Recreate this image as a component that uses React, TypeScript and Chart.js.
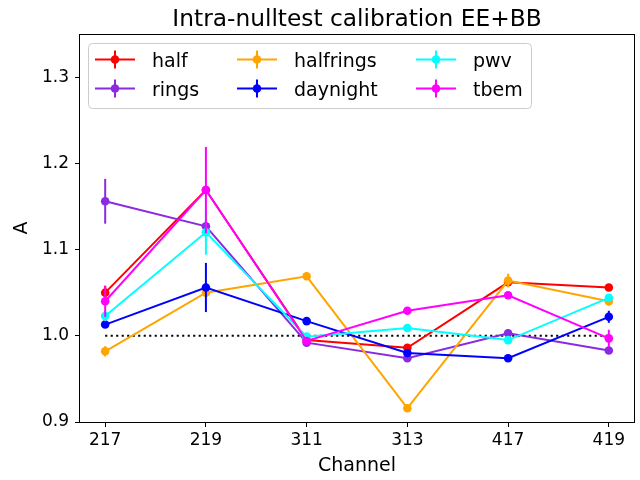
import { Chart, registerables } from "chart.js";
import { useEffect, useRef } from "react";

Chart.register(...registerables);

const categories = ["217", "219", "311", "313", "417", "419"];
const yTicks = [0.9, 1.0, 1.1, 1.2, 1.3];

const seriesNames = ["half", "rings", "halfrings", "daynight", "pwv", "tbem"];
const seriesColors = ["#ff0000", "#8a2be2", "#ffa500", "#0000ff", "#00ffff", "#ff00ff"];

const half = [1.050, 1.169, 0.995, 0.986, 1.062, 1.056];
const rings = [1.156, 1.127, 0.992, 0.974, 1.003, 0.983];
const halfrings = [0.982, 1.050, 1.069, 0.916, 1.064, 1.040];
const daynight = [1.013, 1.056, 1.017, 0.980, 0.974, 1.022];
const pwv = [1.023, 1.120, 0.999, 1.009, 0.995, 1.044];
const tbem = [1.040, 1.169, 0.994, 1.029, 1.047, 0.997];

const halfErr = [0.008, 0.005, 0.004, 0.004, 0.004, 0.004];
const ringsErr = [0.026, 0.005, 0.004, 0.004, 0.004, 0.004];
const halfringsErr = [0.006, 0.005, 0.004, 0.004, 0.008, 0.005];
const daynightErr = [0.004, 0.0285, 0.004, 0.004, 0.004, 0.007];
const pwvErr = [0.006, 0.026, 0.004, 0.004, 0.004, 0.004];
const tbemErr = [0.018, 0.05, 0.004, 0.004, 0.004, 0.010];

const referenceLine = [1.0, 1.0];

const values = [half, rings, halfrings, daynight, pwv, tbem];
const errors = [halfErr, ringsErr, halfringsErr, daynightErr, pwvErr, tbemErr];

const FONT = '"DejaVu Sans", sans-serif';

// error bars, drawn per dataset so stacking follows dataset order
const errorBarPlugin = {
  id: "errorBars",
  beforeDatasetDraw(chart: any, args: any) {
    const ds = chart.data.datasets[args.index];
    if (ds.errIndex === undefined) return;
    const err = errors[ds.errIndex];
    const vals = values[ds.errIndex];
    const xs = chart.scales.x;
    const ys = chart.scales.y;
    const ctx = chart.ctx;
    ctx.save();
    ctx.beginPath();
    ctx.rect(chart.chartArea.left, chart.chartArea.top, chart.chartArea.width, chart.chartArea.height);
    ctx.clip();
    ctx.strokeStyle = ds.borderColor;
    ctx.lineWidth = 2;
    vals.forEach((v, i) => {
      const px = xs.getPixelForValue(i);
      ctx.beginPath();
      ctx.moveTo(px, ys.getPixelForValue(v - err[i]));
      ctx.lineTo(px, ys.getPixelForValue(v + err[i]));
      ctx.stroke();
    });
    ctx.restore();
  },
};

const decorPlugin = {
  id: "decor",
  afterDraw(chart: any) {
    const { ctx, chartArea } = chart;
    const { left, right, top, bottom } = chartArea;
    ctx.save();
    // frame
    ctx.strokeStyle = "#000";
    ctx.lineWidth = 1;
    ctx.strokeRect(Math.round(left) - 0.5, Math.round(top) + 0.5, Math.round(right - left) + 1, Math.round(bottom - top));

    // title
    ctx.fillStyle = "#000";
    ctx.font = `23.3px ${FONT}`;
    ctx.textAlign = "center";
    ctx.textBaseline = "alphabetic";
    ctx.fillText("Intra-nulltest calibration EE+BB", (left + right) / 2, 26);

    // legend
    const bx = left + 8.5;
    const by = top + 9.5;
    const bw = 443;
    const bh = 65;
    ctx.beginPath();
    ctx.roundRect(bx, by, bw, bh, 4);
    ctx.fillStyle = "rgba(255,255,255,0.8)";
    ctx.fill();
    ctx.strokeStyle = "#cccccc";
    ctx.lineWidth = 1;
    ctx.stroke();

    const colX = [left + 15, left + 157, left + 336];
    const rowY = [top + 25.5, top + 54.5];
    ctx.font = `19px ${FONT}`;
    ctx.textAlign = "left";
    seriesNames.forEach((name, i) => {
      const x0 = colX[Math.floor(i / 2)];
      const y0 = rowY[i % 2];
      ctx.strokeStyle = seriesColors[i];
      ctx.fillStyle = seriesColors[i];
      ctx.lineWidth = 2;
      ctx.beginPath();
      ctx.moveTo(x0, y0);
      ctx.lineTo(x0 + 40, y0);
      ctx.moveTo(x0 + 20, y0 - 9);
      ctx.lineTo(x0 + 20, y0 + 9);
      ctx.stroke();
      ctx.beginPath();
      ctx.arc(x0 + 20, y0, 4.3, 0, Math.PI * 2);
      ctx.fill();
      ctx.fillStyle = "#000";
      ctx.fillText(name, x0 + 57, y0 + 7);
    });
    ctx.restore();
  },
};

export default function App() {
  const canvasRef = useRef<HTMLCanvasElement>(null);

  useEffect(() => {
    if (!canvasRef.current) return;
    const datasets: any[] = seriesNames.map((name, i) => ({
      label: name,
      data: values[i].map((v, j) => ({ x: j, y: v })),
      borderColor: seriesColors[i],
      backgroundColor: seriesColors[i],
      borderWidth: 2,
      pointRadius: 4.3,
      pointBorderWidth: 0,
      pointBackgroundColor: seriesColors[i],
      tension: 0,
      order: seriesNames.length - i,
      errIndex: i,
    }));
    datasets.push({
      label: "reference",
      data: referenceLine.map((v, j) => ({ x: j * (categories.length - 1), y: v })),
      borderColor: "#000",
      borderWidth: 2,
      borderDash: [2.1, 3.4],
      pointRadius: 0,
      order: 20,
    });

    const chart = new Chart(canvasRef.current, {
      type: "line",
      data: { datasets },
      options: {
        animation: false,
        responsive: false,
        devicePixelRatio: 1,
        events: [],
        layout: { padding: { top: 34, right: 6, left: 0, bottom: 0 } },
        plugins: {
          legend: { display: false },
          title: { display: false },
          tooltip: { enabled: false },
        },
        scales: {
          x: {
            type: "linear",
            min: -0.25,
            max: 5.25,
            afterBuildTicks: (s: any) => {
              s.ticks = categories.map((_, i) => ({ value: i }));
            },
            afterFit: (s: any) => {
              s.height = 58;
            },
            ticks: {
              callback: (v: any) => categories[Math.round(Number(v))],
              color: "#000",
              font: { family: FONT, size: 17 },
              padding: 3,
              maxRotation: 0,
              autoSkip: false,
            },
            grid: { drawOnChartArea: false, drawTicks: true, tickLength: 5, color: "#000" },
            border: { display: false },
            title: {
              display: true,
              text: "Channel",
              color: "#000",
              font: { family: FONT, size: 19 },
              padding: { top: 0, bottom: 3 },
            },
          },
          y: {
            type: "linear",
            min: 0.9,
            max: 1.35,
            afterBuildTicks: (s: any) => {
              s.ticks = yTicks.map((v) => ({ value: v }));
            },
            afterFit: (s: any) => {
              s.width = 80;
            },
            ticks: {
              callback: (v: any) => Number(v).toFixed(1),
              color: "#000",
              font: { family: FONT, size: 17 },
              padding: 6,
            },
            grid: { drawOnChartArea: false, drawTicks: true, tickLength: 5, color: "#000" },
            border: { display: false },
            title: {
              display: true,
              text: "A",
              color: "#000",
              font: { family: FONT, size: 19 },
              padding: { top: 11, bottom: 0 },
            },
          },
        },
      } as any,
      plugins: [errorBarPlugin, decorPlugin],
    });

    return () => {
      chart.destroy();
    };
  }, []);

  return (
    <div style={{ position: "absolute", left: 0, top: 0, width: 640, height: 480, background: "#fff" }}>
      <canvas ref={canvasRef} width={640} height={480} />
    </div>
  );
}
